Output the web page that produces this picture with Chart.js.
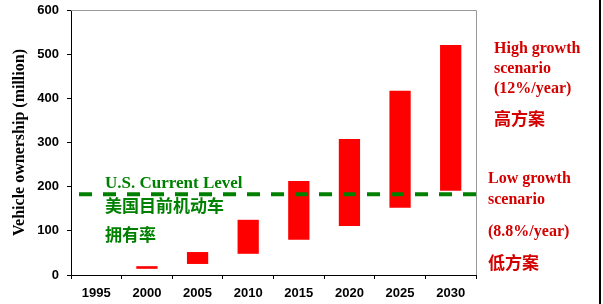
<!DOCTYPE html>
<html>
<head>
<meta charset="utf-8">
<script src="https://cdn.jsdelivr.net/npm/chart.js@4/dist/chart.umd.min.js"></script>
<style>
  html, body { margin: 0; padding: 0; background: #fff; }
  #wrap { width: 603px; height: 304px; }
</style>
</head>
<body>
<div id="wrap"><canvas id="ownershipChart" width="603" height="304"></canvas></div>
<script>
// categories and ranges (million vehicles)
const years = ["1995", "2000", "2005", "2010", "2015", "2020", "2025", "2030"];
const lowScenario = [null, 14, 25, 48, 80, 111, 152, 191];
const highScenario = [null, 20, 52, 125, 213, 308, 417, 521];
const usCurrentLevel = 183;
const yTicks = [0, 100, 200, 300, 400, 500, 600];

const ranges = years.map((y, i) =>
    lowScenario[i] === null ? null : [lowScenario[i], highScenario[i]]);

// dashed US level line, frame lines and text notes
const annotations = {
    id: 'annotations',
    afterDatasetsDraw(chart) {
        const ctx = chart.ctx;
        const area = chart.chartArea;
        const yScale = chart.scales.y;
        ctx.save();

        // top / right frame in grey
        ctx.strokeStyle = '#999999';
        ctx.lineWidth = 1;
        ctx.beginPath();
        ctx.moveTo(area.left, area.top + 0.5);
        ctx.lineTo(area.right + 0.5, area.top + 0.5);
        ctx.lineTo(area.right + 0.5, area.bottom);
        ctx.stroke();

        // US current level
        const yUs = yScale.getPixelForValue(usCurrentLevel);
        ctx.strokeStyle = '#008000';
        ctx.lineWidth = 4;
        ctx.setLineDash([13, 11]);
        ctx.beginPath();
        ctx.moveTo(79, yUs);
        ctx.lineTo(area.right, yUs);
        ctx.stroke();
        ctx.setLineDash([]);

        ctx.fillStyle = '#008000';
        ctx.textAlign = 'left';
        ctx.textBaseline = 'alphabetic';
        ctx.font = 'bold 17px "Liberation Serif", "Times New Roman", serif';
        ctx.fillText('U.S. Current Level', 105, 188);
        ctx.textBaseline = 'middle';
        ctx.font = 'bold 17px "Noto Sans CJK SC", sans-serif';
        ctx.fillText('美国目前机动车', 105, 206);
        ctx.fillText('拥有率', 105, 235);

        // scenario notes
        ctx.fillStyle = '#d40000';
        ctx.textBaseline = 'alphabetic';
        ctx.font = 'bold 16px "Liberation Serif", "Times New Roman", serif';
        ctx.fillText('High growth', 494, 53);
        ctx.fillText('scenario', 494, 73);
        ctx.fillText('(12%/year)', 494, 93);
        ctx.fillText('Low growth', 488, 183);
        ctx.fillText('scenario', 488, 204);
        ctx.fillText('(8.8%/year)', 488, 236);
        ctx.textBaseline = 'middle';
        ctx.font = 'bold 17px "Noto Sans CJK SC", sans-serif';
        ctx.fillText('高方案', 494, 119);
        ctx.fillText('低方案', 488, 263);

        // black frame on the far right
        ctx.fillStyle = '#000000';
        ctx.fillRect(599, 0, 2, chart.height);
        ctx.restore();
    }
};

const config = {
    type: 'bar',
    data: {
        labels: years,
        datasets: [{
            label: 'Vehicle ownership',
            data: ranges,
            backgroundColor: '#ff0000',
            borderWidth: 0,
            barPercentage: 0.42,
            categoryPercentage: 1.0
        }]
    },
    options: {
        responsive: false,
        animation: false,
        layout: { padding: { left: 0, right: 127, top: 10, bottom: 0 } },
        plugins: {
            legend: { display: false },
            tooltip: { enabled: false }
        },
        scales: {
            x: {
                afterFit(scale) {
                    scale.height = 29;
                    scale.paddingLeft = 0;
                    scale.paddingRight = 0;
                },
                grid: {
                    offset: true,
                    drawOnChartArea: false,
                    drawTicks: true,
                    tickLength: 4,
                    color: '#000000'
                },
                border: { color: '#000000', width: 1 },
                ticks: {
                    color: '#000000',
                    padding: 7,
                    font: { family: 'Arial, "Liberation Sans", sans-serif', size: 13, weight: 'bold' }
                }
            },
            y: {
                min: 0,
                max: 600,
                afterFit(scale) {
                    scale.width = 71;
                    scale.paddingTop = 0;
                    scale.paddingBottom = 0;
                },
                afterBuildTicks(scale) { scale.ticks = yTicks.map(v => ({ value: v })); },
                grid: {
                    drawOnChartArea: false,
                    drawTicks: true,
                    tickLength: 4,
                    color: '#000000'
                },
                border: { color: '#000000', width: 1 },
                ticks: {
                    color: '#000000',
                    padding: 8,
                    font: { family: 'Arial, "Liberation Sans", sans-serif', size: 13, weight: 'bold' }
                },
                title: {
                    display: true,
                    text: 'Vehicle ownership (million)',
                    color: '#000000',
                    padding: { top: 10, bottom: 0 },
                    font: { family: '"Liberation Serif", "Times New Roman", serif', size: 16, weight: 'bold' }
                }
            }
        }
    },
    plugins: [annotations]
};

const ownershipChart = new Chart(document.getElementById('ownershipChart'), config);
</script>
</body>
</html>
